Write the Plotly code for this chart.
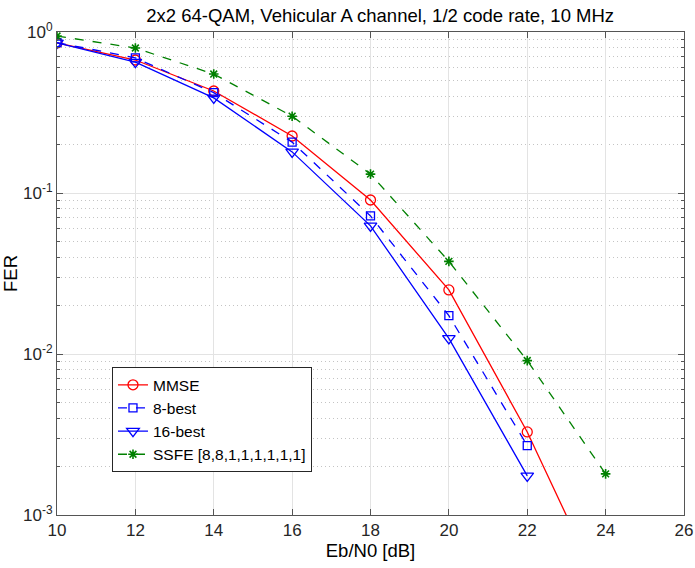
import plotly.graph_objects as go

snr = [10, 12, 14, 16, 18, 20, 22, 24]
mmse = [0.855, 0.67, 0.43, 0.226, 0.0905, 0.025, 0.00328, 0.0003]
best8 = [0.86, 0.69, 0.42, 0.207, 0.072, 0.0173, 0.0027]
best16 = [0.855, 0.65, 0.39, 0.18, 0.0625, 0.0125, 0.00175]
ssfe = [0.944, 0.795, 0.548, 0.30, 0.131, 0.0376, 0.0091, 0.0018]

x_ticks = [10, 12, 14, 16, 18, 20, 22, 24, 26]
y_ticks = [1e-3, 1e-2, 1e-1, 1]
y_ticktext = ["10<sup>-3</sup>", "10<sup>-2</sup>", "10<sup>-1</sup>", "10<sup>0</sup>"]

fig = go.Figure()
fig.add_trace(go.Scatter(x=snr[:len(mmse)], y=mmse, name="MMSE", mode="lines+markers",
                         line=dict(color="#ff0000", width=1.3),
                         marker=dict(symbol="circle-open", size=10, color="#ff0000", line=dict(width=1.3))))
fig.add_trace(go.Scatter(x=snr[:len(best8)], y=best8, name="8-best", mode="lines+markers",
                         line=dict(color="#0000ff", width=1.3, dash="dash"),
                         marker=dict(symbol="square-open", size=8, color="#0000ff", line=dict(width=1.3))))
fig.add_trace(go.Scatter(x=snr[:len(best16)], y=best16, name="16-best", mode="lines+markers",
                         line=dict(color="#0000ff", width=1.3),
                         marker=dict(symbol="triangle-down-open", size=11, color="#0000ff", line=dict(width=1.3))))
fig.add_trace(go.Scatter(x=snr[:len(ssfe)], y=ssfe, name="SSFE [8,8,1,1,1,1,1,1]", mode="lines+markers",
                         line=dict(color="#008000", width=1.3, dash="dash"),
                         marker=dict(symbol="asterisk-open", size=8, color="#008000", line=dict(width=1.6, color="#008000"))))

minor_vals = [m * 10 ** e for e in (-3, -2, -1) for m in range(2, 10)]

fig.update_layout(
    width=695, height=568,
    margin=dict(l=57, r=11, t=32, b=53),
    paper_bgcolor="white", plot_bgcolor="white",
    font=dict(family="Liberation Sans, Arial, sans-serif", size=17, color="#262626"),
    title=dict(text="2x2 64-QAM, Vehicular A channel, 1/2 code rate, 10 MHz",
               xref="container", x=0.547, xanchor="center",
               yref="container", y=0.972, yanchor="middle",
               font=dict(size=18.5, color="#000000")),
    showlegend=True,
    legend=dict(x=0.0877, y=0.306, xanchor="left", yanchor="top",
                bgcolor="white", bordercolor="#262626", borderwidth=1,
                font=dict(size=15.5, color="#000000"), tracegroupgap=0, itemwidth=30),
    xaxis=dict(range=[10, 26], tickvals=x_ticks, ticks="inside", ticklen=6,
               tickcolor="#555555", showline=True, linecolor="#555555", linewidth=1,
               mirror="ticks", showgrid=True, gridcolor="#e3e3e3", gridwidth=1,
               tickfont=dict(size=17, color="#262626"), automargin=False,
               zeroline=False, title=dict(text="Eb/N0 [dB]", standoff=4,
                                          font=dict(size=18.5, color="#000000"))),
    yaxis=dict(type="log", range=[-3, 0], tickvals=y_ticks, ticktext=y_ticktext,
               ticks="inside", ticklen=6, tickcolor="#555555",
               showline=True, linecolor="#555555", linewidth=1, mirror="ticks",
               showgrid=True, gridcolor="#e3e3e3", gridwidth=1,
               tickfont=dict(size=17, color="#262626"), automargin=False,
               zeroline=False, title=dict(text="FER", standoff=6,
                                          font=dict(size=18.5, color="#000000")),
               minor=dict(tickvals=minor_vals, ticks="inside", ticklen=3, tickcolor="#555555",
                          showgrid=True, gridcolor="#c4c4c4", griddash="1px,3px", gridwidth=1)),
)

fig.write_html("out.html")
